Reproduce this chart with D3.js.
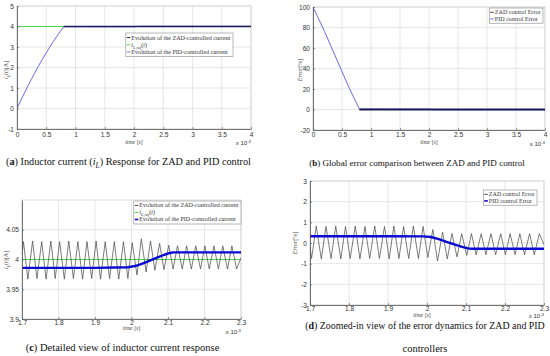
<!DOCTYPE html>
<html>
<head>
<meta charset="utf-8">
<script src="https://cdn.jsdelivr.net/npm/d3@7"></script>
<style>
  body { margin: 0; background: #fff; }
  svg { display: block; }
</style>
</head>
<body>
<svg id="fig" width="550" height="356"></svg>
<script>
"use strict";

// time is in ms everywhere (axes show "x 10^-3" s)

// (a) inductor current, whole run
const refTimeA = [0, 4];
const refCurrentA = [4, 4];
const pidTimeA = [0, 0.1, 0.2, 0.3, 0.4, 0.5, 0.6, 0.7, 0.8, 2.0, 2.1, 4.0];
const pidCurrentA = [0, 0.6, 1.18, 1.72, 2.24, 2.72, 3.18, 3.6, 3.99, 3.987, 4.012, 4.012];
const zadTimeA = [0.8, 2.0, 2.1, 4.0];
const zadCurrentA = [4.0, 4.0, 4.0, 4.0];

// (b) global error in %
const pidTimeB = [0, 0.1, 0.2, 0.3, 0.4, 0.5, 0.6, 0.7, 0.8, 2.0, 2.1, 4.0];
const pidErrorB = [100, 88, 76, 63, 50, 37, 24, 12, 0.4, 0.33, -0.27, -0.27];
const zadTimeB = [0.8, 2.0, 2.1, 4.0];
const zadErrorB = [0, 0, 0, 0];

// (c) / (d) zoom 1.7 .. 2.3 ms, ZAD switching vertices
const zoomTime = [1.700,
  1.704, 1.716, 1.729, 1.741, 1.754, 1.766, 1.779, 1.791, 1.803, 1.816, 1.828, 1.841,
  1.853, 1.866, 1.878, 1.891, 1.903, 1.915, 1.928, 1.940, 1.953, 1.965, 1.978, 1.990,
  2.002, 2.015, 2.027, 2.040, 2.052, 2.064, 2.077, 2.089, 2.102, 2.114, 2.126, 2.139,
  2.151, 2.164, 2.176, 2.189, 2.201, 2.213, 2.226, 2.238, 2.250, 2.263, 2.275, 2.288,
  2.300];
const zadCurrentC = [4.008,
  4.030, 3.967, 4.031, 3.968, 4.030, 3.967, 4.031, 3.968, 4.030, 3.967, 4.031, 3.968,
  4.030, 3.967, 4.030, 3.968, 4.031, 3.967, 4.030, 3.968, 4.030, 3.967, 4.030, 3.968,
  4.028, 3.974, 4.035, 3.979, 4.031, 3.982, 4.027, 3.983, 4.024, 3.984, 4.023, 3.984,
  4.023, 3.984, 4.023, 3.984, 4.023, 3.984, 4.023, 3.984, 4.023, 3.984, 4.023, 3.984,
  4.003];
const zadErrorD = [-0.20,
  -0.75, 0.82, -0.77, 0.80, -0.75, 0.82, -0.77, 0.80, -0.75, 0.82, -0.77, 0.80,
  -0.75, 0.82, -0.75, 0.80, -0.77, 0.82, -0.75, 0.80, -0.75, 0.82, -0.75, 0.80,
  -0.70, 0.65, -0.87, 0.52, -0.77, 0.46, -0.67, 0.45, -0.60, 0.45, -0.57, 0.45,
  -0.57, 0.45, -0.57, 0.45, -0.57, 0.45, -0.57, 0.45, -0.57, 0.45, -0.57, 0.45,
  -0.08];
const pidTimeC = [1.70, 1.80, 1.90, 1.99, 2.01, 2.03, 2.05, 2.07, 2.09, 2.105, 2.115, 2.20, 2.30];
const pidCurrentC = [3.986, 3.986, 3.986, 3.987, 3.989, 3.993, 3.998, 4.003, 4.008, 4.011, 4.012, 4.012, 4.012];
const pidErrorD = [0.33, 0.33, 0.33, 0.32, 0.29, 0.19, 0.06, -0.07, -0.19, -0.26, -0.28, -0.28, -0.28];
const refTimeC = [1.7, 2.3];
const refCurrentC = [4, 4];

// ticks
const ticksFull = [0, 0.5, 1, 1.5, 2, 2.5, 3, 3.5, 4];
const ticksZoom = [1.7, 1.8, 1.9, 2, 2.1, 2.2, 2.3];
const ticksCurrentA = [-1, 0, 1, 2, 3, 4, 5];
const ticksErrorB = [-20, 0, 20, 40, 60, 80, 100];
const ticksCurrentC = [3.9, 3.95, 4, 4.05];
const ticksErrorD = [-3, -2, -1, 0, 1, 2, 3];

// legend labels
const zadCurrentLabel = "Evolution of the ZAD-controlled current";
const pidCurrentLabel = "Evolution of the PID-controlled current";
const zadErrorLabel = "ZAD control Error";
const pidErrorLabel = "PID control Error";

const serif = "'Liberation Serif', 'DejaVu Serif', serif";
const sans = "'Liberation Sans', Arial, sans-serif";

const green = "#3ccf3c";
const fig = d3.select("#fig");

// rich text: parts are [text, style]; i italic, b bold, s subscript, p superscript, r back to baseline
function richText(sel, parts, size) {
  parts.forEach(([t, st = ""]) => {
    const ts = sel.append("tspan").text(t);
    if (st.includes("i")) ts.attr("font-style", "italic");
    if (st.includes("b")) ts.attr("font-weight", "bold");
    if (st.includes("s")) ts.attr("class", "sub").attr("font-size", size * 0.72).attr("dy", size * 0.3);
    if (st.includes("p")) ts.attr("font-size", size * 0.72).attr("dy", -size * 0.35);
    if (st.includes("r")) ts.attr("class", "back").attr("dy", -size * 0.3);
  });
  return sel;
}

const iLabel = [["i", "i"], ["L", "is"], ["(", "r"], ["t", "i"], [")[A]"]];
const refLabel = [["i", "i"], ["L,ref", "is"], ["(", "r"], ["t", "i"], [")"]];
const timeLabel = [["time", "i"], ["  ["], ["s", "i"], ["]"]];
const errorLabel = [["Error", "i"], ["[%]"]];

function drawPanel(p) {
  const g = fig.append("g");
  const x = d3.scaleLinear().domain(p.xDomain).range([p.left, p.right]);
  const y = d3.scaleLinear().domain(p.yDomain).range([p.bottom, p.top]);

  // grid
  g.append("g").selectAll("line").data(p.xTicks).join("line")
      .attr("x1", d => x(d)).attr("x2", d => x(d))
      .attr("y1", p.top).attr("y2", p.bottom)
      .attr("stroke", "#dcdcdc").attr("stroke-width", 0.7);
  g.append("g").selectAll("line").data(p.yTicks).join("line")
      .attr("x1", p.left).attr("x2", p.right)
      .attr("y1", d => y(d)).attr("y2", d => y(d))
      .attr("stroke", "#dcdcdc").attr("stroke-width", 0.7);
  g.append("rect")
      .attr("x", p.left).attr("y", p.top)
      .attr("width", p.right - p.left).attr("height", p.bottom - p.top)
      .attr("fill", "none").attr("stroke", "#cfcfcf").attr("stroke-width", 0.7);

  // series
  const clipId = "clip-" + p.name;
  fig.append("clipPath").attr("id", clipId).append("rect")
      .attr("x", p.left).attr("y", p.top)
      .attr("width", p.right - p.left).attr("height", p.bottom - p.top);
  const line = d3.line().x(d => x(d[0])).y(d => y(d[1]));
  const lines = g.append("g").attr("clip-path", `url(#${clipId})`);
  p.series.forEach(s => {
    lines.append("path")
        .datum(d3.zip(s.t, s.v))
        .attr("d", line)
        .attr("fill", "none")
        .attr("stroke", s.color)
        .attr("stroke-width", s.width)
        .attr("stroke-linejoin", "round");
  });

  // axes
  const xAxis = d3.axisBottom(x).tickValues(p.xTicks).tickSize(-2).tickSizeOuter(0)
      .tickPadding(p.xPad).tickFormat(d => String(d));
  const yAxis = d3.axisLeft(y).tickValues(p.yTicks).tickSize(-2).tickSizeOuter(0)
      .tickPadding(3).tickFormat(d => String(d));
  [g.append("g").attr("transform", `translate(0,${p.bottom})`).call(xAxis),
   g.append("g").attr("transform", `translate(${p.left},0)`).call(yAxis)]
    .forEach(a => {
      a.select(".domain").attr("stroke", "#555").attr("stroke-width", 0.8);
      a.selectAll(".tick line").attr("stroke", "#555").attr("stroke-width", 0.6);
      a.selectAll("text").attr("font-family", sans).attr("font-size", 6.6).attr("fill", "#333");
    });

  // axis labels
  richText(g.append("text")
      .attr("x", p.xLabelX || (p.left + p.right) / 2).attr("y", p.xLabelY)
      .attr("text-anchor", "middle")
      .attr("font-family", serif).attr("font-size", 5.8).attr("fill", "#444"), timeLabel, 5.8);
  richText(g.append("text")
      .attr("transform", `translate(${p.yLabelX},${p.yLabelY}) rotate(-90)`)
      .attr("text-anchor", "middle")
      .attr("font-family", serif).attr("font-size", 6).attr("fill", "#444"), p.yLabel, 6);
  richText(g.append("text")
      .attr("x", p.right).attr("y", p.expY)
      .attr("text-anchor", "end")
      .attr("font-family", sans).attr("font-size", 6).attr("fill", "#333"),
      [["x 10"], ["-3", "p"]], 6);

  // legend
  const L = p.legend;
  const lg = g.append("g");
  const box = lg.append("rect").attr("fill", "#fff").attr("stroke", "#888").attr("stroke-width", 0.6);
  let maxW = 0;
  L.items.forEach((it, i) => {
    const yy = L.top + L.step * (i + 0.5) + 1;
    lg.append("line")
        .attr("y1", yy).attr("y2", yy)
        .attr("class", "lgline")
        .attr("stroke", it.color).attr("stroke-width", it.width);
    const t = lg.append("text").attr("class", "lgtext")
        .attr("y", yy + 1.9)
        .attr("font-family", serif).attr("font-size", L.size).attr("fill", "#333");
    richText(t, it.label, L.size);
    maxW = Math.max(maxW, t.node().getComputedTextLength());
  });
  const w = maxW + 8;
  const left = L.right - w;
  lg.selectAll(".lgline").attr("x1", left + 1).attr("x2", left + 4.5);
  lg.selectAll(".lgtext").attr("x", left + 5.5);
  box.attr("x", left).attr("y", L.top).attr("width", w).attr("height", L.step * L.items.length + 2);
}

const plainItem = (label, color, width) => ({ label: [[label]], color, width });

drawPanel({
  name: "a", left: 17, right: 251, top: 6, bottom: 129,
  xDomain: [0, 4], yDomain: [-1, 5], xTicks: ticksFull, yTicks: ticksCurrentA, xPad: 3.4,
  xLabelY: 143.5, expY: 145, yLabelX: 8, yLabelY: 70, yLabel: iLabel,
  series: [
    { t: refTimeA, v: refCurrentA, color: green, width: 0.9 },
    { t: pidTimeA, v: pidCurrentA, color: "#6a6af0", width: 1 },
    { t: zadTimeA, v: zadCurrentA, color: "#1c1c58", width: 1.6 }
  ],
  legend: { right: 233, top: 33, step: 7.2, size: 6.1, items: [
    plainItem(zadCurrentLabel, "#1c1c58", 1),
    { label: refLabel, color: green, width: 0.9 },
    plainItem(pidCurrentLabel, "#6a6af0", 1)
  ] }
});

drawPanel({
  name: "b", left: 313, right: 545, top: 7, bottom: 130,
  xDomain: [0, 4], yDomain: [-20, 100], xTicks: ticksFull, yTicks: ticksErrorB, xPad: 2.4,
  xLabelY: 143.5, expY: 146, yLabelX: 302, yLabelY: 70, yLabel: errorLabel,
  series: [
    { t: pidTimeB, v: pidErrorB, color: "#6a6af0", width: 1 },
    { t: zadTimeB, v: zadErrorB, color: "#1c1c58", width: 1.8 }
  ],
  legend: { right: 543, top: 8, step: 6.6, size: 6.1, items: [
    plainItem(zadErrorLabel, "#333", 0.9),
    plainItem(pidErrorLabel, "#6a6af0", 1)
  ] }
});

drawPanel({
  name: "c", left: 22, right: 241, top: 200, bottom: 319,
  xDomain: [1.7, 2.3], yDomain: [3.9, 4.1], xTicks: ticksZoom, yTicks: ticksCurrentC, xPad: 1,
  xLabelY: 330, expY: 334, yLabelX: 8, yLabelY: 260, yLabel: iLabel,
  series: [
    { t: refTimeC, v: refCurrentC, color: green, width: 0.9 },
    { t: zoomTime, v: zadCurrentC, color: "#444", width: 0.7 },
    { t: pidTimeC, v: pidCurrentC, color: "#0a0ad2", width: 2.4 }
  ],
  legend: { right: 241, top: 201, step: 7, size: 6.1, items: [
    plainItem(zadCurrentLabel, "#333", 0.9),
    { label: refLabel, color: green, width: 0.9 },
    plainItem(pidCurrentLabel, "#0a0ad2", 1.6)
  ] }
});

drawPanel({
  name: "d", left: 310, right: 544, top: 181, bottom: 305,
  xDomain: [1.7, 2.3], yDomain: [-3, 3], xTicks: ticksZoom, yTicks: ticksErrorD, xPad: 1,
  xLabelX: 422, xLabelY: 317, expY: 318, yLabelX: 297, yLabelY: 243, yLabel: errorLabel,
  series: [
    { t: zoomTime, v: zadErrorD, color: "#444", width: 0.7 },
    { t: pidTimeC, v: pidErrorD, color: "#0a0ad2", width: 2.4 }
  ],
  legend: { right: 537, top: 190, step: 6.6, size: 6.1, items: [
    plainItem(zadErrorLabel, "#333", 0.9),
    plainItem(pidErrorLabel, "#0a0ad2", 1.6)
  ] }
});

// captions, scaled so each line spans the same width as in the figure
const captions = [
  { cx: 128.5, y: 165, width: 245, parts: [["("], ["a", "b"], [") Inductor current ("], ["i", "i"], ["L", "is"], [")", "r"], [" Response for ZAD and PID control"]] },
  { cx: 417, y: 166, width: 216, parts: [["("], ["b", "b"], [") Global error comparison between ZAD and PID control"]] },
  { cx: 122.5, y: 351, width: 195, parts: [["("], ["c", "b"], [") Detailed view of inductor current response"]] },
  { cx: 425, y: 328.5, width: 240, parts: [["("], ["d", "b"], [") Zoomed-in view of the error dynamics for ZAD and PID"]] },
  { cx: 425, y: 351.5, width: 49, parts: [["controllers"]] }
];

captions.forEach(c => {
  const t = fig.append("text")
      .attr("x", c.cx).attr("y", c.y)
      .attr("text-anchor", "middle")
      .attr("font-family", serif).attr("font-size", 10).attr("fill", "#111");
  richText(t, c.parts, 10);
  const fs = Math.min(10.5, 10 * c.width / t.node().getComputedTextLength());
  t.attr("font-size", fs);
  t.selectAll(".sub").attr("font-size", fs * 0.72).attr("dy", fs * 0.3);
  t.selectAll(".back").attr("dy", -fs * 0.3);
});
</script>
</body>
</html>
